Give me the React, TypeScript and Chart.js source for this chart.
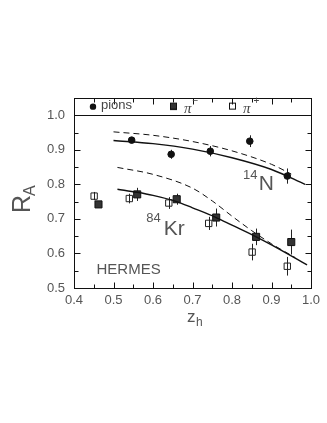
import React, { useEffect, useRef } from "react";
import { Chart, registerables } from "chart.js";

Chart.register(...registerables);

// ---- data ----
const pionsX = [0.546, 0.646, 0.745, 0.845, 0.94];
const pionsY = [0.928, 0.887, 0.896, 0.925, 0.824];
const pionsErr = [0.008, 0.013, 0.015, 0.017, 0.022];

const piMinusX = [0.462, 0.56, 0.66, 0.76, 0.861, 0.95];
const piMinusY = [0.742, 0.771, 0.757, 0.704, 0.648, 0.633];
const piMinusErr = [0.008, 0.019, 0.016, 0.026, 0.024, 0.036];

const piPlusX = [0.451, 0.54, 0.64, 0.741, 0.851, 0.94];
const piPlusY = [0.766, 0.759, 0.746, 0.687, 0.604, 0.563];
const piPlusErr = [0.012, 0.014, 0.017, 0.019, 0.024, 0.027];

const nSolidX = [0.5, 0.6, 0.7, 0.8, 0.9, 0.985];
const nSolidY = [0.927, 0.918, 0.902, 0.877, 0.843, 0.8];
const nDashX = [0.5, 0.6, 0.7, 0.8, 0.9, 0.95];
const nDashY = [0.952, 0.942, 0.924, 0.897, 0.858, 0.83];

const krSolidX = [0.51, 0.56, 0.6, 0.66, 0.7, 0.76, 0.8, 0.86, 0.9, 0.99];
const krSolidY = [0.786, 0.777, 0.768, 0.75, 0.732, 0.704, 0.682, 0.649, 0.625, 0.567];
const krDashX = [0.51, 0.6, 0.7, 0.75, 0.8, 0.85, 0.9, 0.96];
const krDashY = [0.849, 0.829, 0.789, 0.752, 0.708, 0.666, 0.628, 0.588];

const xTicks = [0.4, 0.5, 0.6, 0.7, 0.8, 0.9, 1.0];
const yTicks = [0.5, 0.6, 0.7, 0.8, 0.9, 1.0];

const zip = (xs: number[], ys: number[]) => xs.map((x, i) => ({ x, y: ys[i] }));

const FONT = "'Liberation Sans', Arial, sans-serif";

const decorPlugin = {
  id: "decor",
  beforeDatasetsDraw(chart: any) {
    const { ctx } = chart;
    const xs = chart.scales.x;
    const ys = chart.scales.y;
    ctx.save();
    ctx.strokeStyle = "#222";
    ctx.lineWidth = 1;
    const bars = (X: number[], Y: number[], E: number[]) => {
      X.forEach((x, i) => {
        const px = Math.round(xs.getPixelForValue(x)) + 0.5;
        ctx.beginPath();
        ctx.moveTo(px, ys.getPixelForValue(Y[i] - E[i]));
        ctx.lineTo(px, ys.getPixelForValue(Y[i] + E[i]));
        ctx.stroke();
      });
    };
    bars(pionsX, pionsY, pionsErr);
    bars(piMinusX, piMinusY, piMinusErr);
    bars(piPlusX, piPlusY, piPlusErr);
    ctx.restore();
  },
  afterDraw(chart: any) {
    const { ctx, chartArea: a } = chart;
    const xs = chart.scales.x;
    const ys = chart.scales.y;
    ctx.save();
    ctx.strokeStyle = "#111";
    ctx.lineWidth = 1;
    const L = Math.round(a.left) + 0.5;
    const R = Math.round(a.right) + 0.5;
    const T = Math.round(a.top) + 0.5;
    const B = Math.round(a.bottom) + 0.5;
    ctx.strokeRect(L, T, R - L, B - T);
    const y1 = Math.round(ys.getPixelForValue(1.0)) + 0.5;
    ctx.beginPath();
    ctx.moveTo(L, y1);
    ctx.lineTo(R, y1);
    ctx.stroke();
    // inward ticks
    ctx.beginPath();
    for (let k = 0; k <= 12; k++) {
      const v = 0.4 + k * 0.05;
      const px = Math.round(xs.getPixelForValue(v)) + 0.5;
      const len = k % 2 === 0 ? 6 : 4;
      ctx.moveTo(px, B);
      ctx.lineTo(px, B - len);
      ctx.moveTo(px, T);
      ctx.lineTo(px, T + len);
    }
    for (let k = 0; k <= 11; k++) {
      const v = 0.5 + k * 0.05;
      const py = Math.round(ys.getPixelForValue(v)) + 0.5;
      const len = k % 2 === 0 ? 6 : 4;
      ctx.moveTo(L, py);
      ctx.lineTo(L + len, py);
      ctx.moveTo(R, py);
      ctx.lineTo(R - len, py);
    }
    ctx.stroke();

    // legend
    const ly = (a.top + ys.getPixelForValue(1.0)) / 2;
    ctx.fillStyle = "#111";
    ctx.beginPath();
    ctx.arc(a.left + 19, ly, 3.2, 0, Math.PI * 2);
    ctx.fill();
    ctx.fillStyle = "#444";
    ctx.font = `13px ${FONT}`;
    ctx.textBaseline = "middle";
    ctx.textAlign = "left";
    ctx.fillText("pions", a.left + 27, ly - 1);
    ctx.fillStyle = "#333";
    ctx.fillRect(a.left + 96, ly - 3.5, 7, 7);
    ctx.strokeStyle = "#111";
    ctx.strokeRect(a.left + 96.5, ly - 3.5, 6, 6);
    ctx.strokeRect(a.left + 155.5, ly - 3.5, 6, 6);
    ctx.font = `italic 15px 'Liberation Serif', serif`;
    ctx.fillStyle = "#444";
    ctx.fillText("\u03c0", a.left + 110, ly + 2);
    ctx.fillText("\u03c0", a.left + 169, ly + 2);
    ctx.font = `10px ${FONT}`;
    ctx.fillText("\u2212", a.left + 118.5, ly - 5);
    ctx.fillText("+", a.left + 179.5, ly - 5);

    // annotations
    ctx.fillStyle = "#555";
    ctx.textBaseline = "alphabetic";
    ctx.font = `13px ${FONT}`;
    ctx.fillText("14", xs.getPixelForValue(0.828), ys.getPixelForValue(0.816));
    ctx.font = `21px ${FONT}`;
    ctx.fillText("N", xs.getPixelForValue(0.868), ys.getPixelForValue(0.783));
    ctx.font = `13px ${FONT}`;
    ctx.fillText("84", xs.getPixelForValue(0.583), ys.getPixelForValue(0.69));
    ctx.font = `21px ${FONT}`;
    ctx.fillText("Kr", xs.getPixelForValue(0.627), ys.getPixelForValue(0.652));
    ctx.font = `15px ${FONT}`;
    ctx.fillText("HERMES", xs.getPixelForValue(0.457), ys.getPixelForValue(0.541));

    // x title
    ctx.font = `17px ${FONT}`;
    ctx.fillStyle = "#555";
    ctx.fillText("z", a.left + 113, 322);
    ctx.font = `12px ${FONT}`;
    ctx.fillText("h", a.left + 122, 326);

    // y title (rotated)
    ctx.save();
    ctx.translate(30, 213);
    ctx.rotate(-Math.PI / 2);
    ctx.font = `25px ${FONT}`;
    ctx.fillStyle = "#555";
    ctx.fillText("R", 0, 0);
    ctx.font = `16px ${FONT}`;
    ctx.fillText("A", 17, 5);
    ctx.restore();

    ctx.restore();
  },
};

export default function App() {
  const ref = useRef<HTMLCanvasElement | null>(null);
  useEffect(() => {
    if (!ref.current) return;
    const lineDs = (xs: number[], ys: number[], dashed: boolean) => ({
      type: "line" as const,
      data: zip(xs, ys),
      borderColor: "#111",
      borderWidth: dashed ? 1 : 1.4,
      borderDash: dashed ? [6, 4] : [],
      pointRadius: 0,
      fill: false,
      cubicInterpolationMode: "monotone" as const,
      showLine: true,
    });
    const chart = new Chart(ref.current, {
      type: "scatter",
      data: {
        datasets: [
          lineDs(nSolidX, nSolidY, false),
          lineDs(nDashX, nDashY, true),
          lineDs(krSolidX, krSolidY, false),
          lineDs(krDashX, krDashY, true),
          {
            label: "pions",
            data: zip(pionsX, pionsY),
            pointStyle: "circle",
            pointRadius: 3.3,
            backgroundColor: "#111",
            borderColor: "#111",
            borderWidth: 1,
          },
          {
            label: "pi-",
            data: zip(piMinusX, piMinusY),
            pointStyle: "rect",
            pointRadius: 5,
            backgroundColor: "#333",
            borderColor: "#111",
            borderWidth: 1,
          },
          {
            label: "pi+",
            data: zip(piPlusX, piPlusY),
            pointStyle: "rect",
            pointRadius: 4.5,
            backgroundColor: "rgba(255,255,255,0)",
            borderColor: "#222",
            borderWidth: 1,
          },
        ] as any,
      },
      options: {
        animation: false,
        responsive: false,
        devicePixelRatio: 1,
        layout: { padding: { top: 98, right: 16, left: 0, bottom: 0 } },
        plugins: { legend: { display: false }, tooltip: { enabled: false } },
        scales: {
          x: {
            type: "linear",
            min: 0.4,
            max: 1.0,
            afterBuildTicks: (s: any) => {
              s.ticks = xTicks.map((v) => ({ value: v }));
            },
            afterFit: (s: any) => {
              s.height = 135;
            },
            ticks: {
              font: { family: FONT, size: 13 },
              color: "#555",
              padding: 5,
              maxRotation: 0,
              autoSkip: false,
              callback: (v: any) => Number(v).toFixed(1),
            },
            grid: { display: false, drawTicks: false },
            border: { display: false },
          },
          y: {
            type: "linear",
            min: 0.5,
            max: 1.05,
            afterBuildTicks: (s: any) => {
              s.ticks = yTicks.map((v) => ({ value: v }));
            },
            afterFit: (s: any) => {
              s.width = 74;
            },
            ticks: {
              font: { family: FONT, size: 13 },
              color: "#555",
              padding: 9,
              autoSkip: false,
              callback: (v: any) => Number(v).toFixed(1),
            },
            grid: { display: false, drawTicks: false },
            border: { display: false },
          },
        },
      },
      plugins: [decorPlugin],
    });
    return () => chart.destroy();
  }, []);
  return (
    <canvas
      ref={ref}
      width={327}
      height={423}
      style={{ position: "absolute", left: 0, top: 0, width: 327, height: 423 }}
    />
  );
}
